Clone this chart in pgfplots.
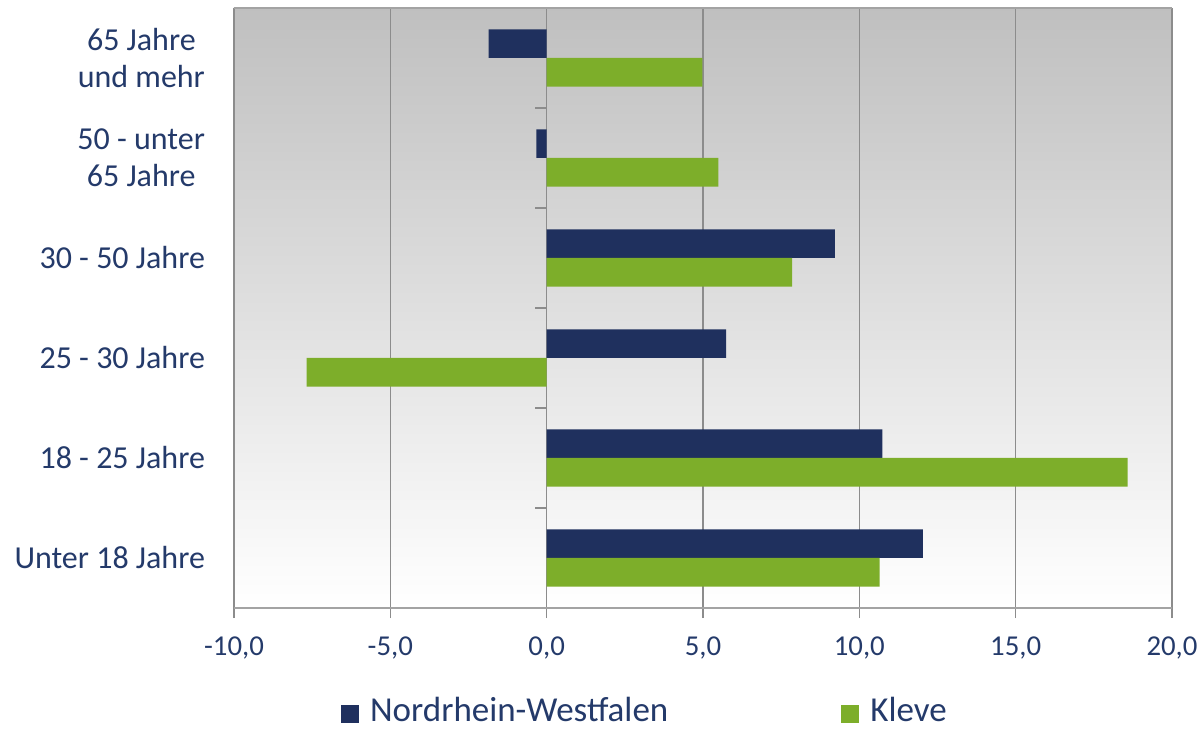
\documentclass[border=0pt]{standalone}
\usepackage{fontspec}
\setmainfont{Carlito}
\usepackage{pgfplots}
\pgfplotsset{compat=1.18}

\definecolor{nrw}{HTML}{1F305E}
\definecolor{kleve}{HTML}{7DAE2A}
\definecolor{txt}{HTML}{243A6A}
\definecolor{gridc}{HTML}{8C8C8C}

\begin{document}
\begin{tikzpicture}
\useasboundingbox (0,0) rectangle (600.5pt,-366pt);
\begin{axis}[
  at={(117pt,-4pt)}, anchor=north west,
  scale only axis, width=469pt, height=300pt,
  xbar, bar width=14.3pt,
  xmin=-10, xmax=20, ymin=0.5, ymax=6.5,
  xtick={-10,-5,...,20},
  ytick={1,...,6},
  yticklabels={Unter 18 Jahre,18 - 25 Jahre,25 - 30 Jahre,30 - 50 Jahre,{50 - unter\\65 Jahre},{65 Jahre\\und mehr}},
  yticklabel style={align=center, font=\fontsize{16}{18.5}\selectfont, text=txt, xshift=-6pt},
  xticklabel style={font=\fontsize{14.4}{17}\selectfont, text=txt, yshift=-6pt},
  /pgf/number format/.cd, fixed, fixed zerofill, precision=1, use comma, assume math mode=true,
  /pgfplots/.cd,
  xtick pos=bottom, tick align=outside, major tick length=5pt,
  xtick style={gridc, line width=0.6pt},
  ytick style={draw=none},
  xmajorgrids, grid style={gridc, line width=0.6pt},
  separate axis lines,
  x axis line style={gridc!80, line width=0.6pt},
  y axis line style={draw=none},
  axis background/.style={top color=black!25, bottom color=white},
  legend style={at={(0.437,-0.195)}, anchor=south, draw=none, fill=none,
    inner sep=0pt, nodes={inner sep=0pt},
    legend columns=2, font=\fontsize{17.5}{20}\selectfont, text=txt,
    /tikz/every odd column/.append style={column sep=5.5pt},
    /tikz/every even column/.append style={column sep=86.5pt}},
  legend image code/.code={\fill[#1] (0pt,-6pt) rectangle (9pt,3pt);},
]
\addplot[draw=none, fill=nrw, bar shift=7.15pt] coordinates {
  (12.03,1) (10.74,2) (5.74,3) (9.22,4) (-0.33,5) (-1.86,6)
};
\addplot[draw=none, fill=kleve, bar shift=-7.15pt] coordinates {
  (10.65,1) (18.58,2) (-7.68,3) (7.85,4) (5.49,5) (4.98,6)
};
\legend{Nordrhein-Westfalen, Kleve}
\pgfplotsinvokeforeach{1.5,2.5,3.5,4.5,5.5}{
  \draw[gridc, line width=0.6pt] (axis cs:0,#1) -- ([xshift=-6pt]axis cs:0,#1);
}
\end{axis}
\end{tikzpicture}
\end{document}
